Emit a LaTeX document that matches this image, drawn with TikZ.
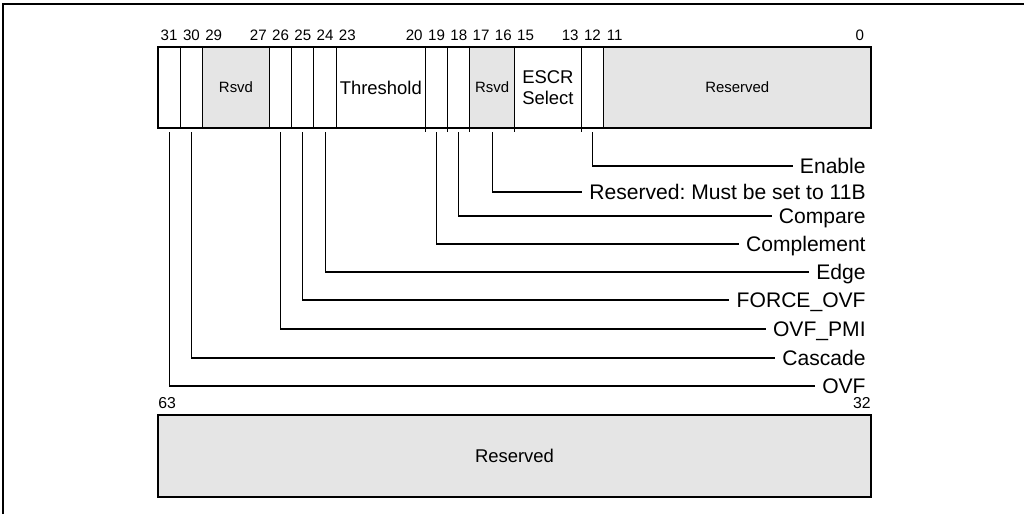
\documentclass[tikz,border=0pt]{standalone}
\usepackage{fontspec}
\setmainfont{Liberation Sans}
\usetikzlibrary{positioning}
\newcommand{\bitw}{4.456mm}
\frenchspacing

\begin{document}
\begin{tikzpicture}[
  x=0.2mm, y=-0.2mm,
  fld/.style={draw, line width=0.6pt, minimum height=16.2mm, inner sep=0pt,
              outer sep=0pt, align=center, font=\fontsize{8.5}{10}\selectfont},
  rsv/.style={fill=black!10},
  big/.style={font=\fontsize{10.5}{12}\selectfont},
  bitno/.style={anchor=base, inner sep=0pt, font=\fontsize{8.6}{9}\selectfont},
  lbl/.style={anchor=east, inner xsep=4pt, inner ysep=0pt, text height=8.6pt,
              text depth=0pt, font=\fontsize{12}{14}\selectfont},
  leader/.style={line width=0.6pt},
]
  \useasboundingbox (0,0) rectangle (1024,514);
  % ── Page frame (only top and left edges show) ──
  \draw[line width=1.2pt] (3,514) -- (3,4) -- (1024,4);

  % ── Low dword: fields from bit 31 down to bit 0 ──
  \node[fld, minimum width=\bitw, anchor=north west] (f31) at (158,47) {};
  \node[fld, minimum width=\bitw, right=0pt of f31] (f30) {};
  \node[fld, rsv, minimum width=3*\bitw, right=0pt of f30] (f2927) {Rsvd};
  \node[fld, minimum width=\bitw, right=0pt of f2927] (f26) {};
  \node[fld, minimum width=\bitw, right=0pt of f26] (f25) {};
  \node[fld, minimum width=\bitw, right=0pt of f25] (f24) {};
  \node[fld, big, minimum width=4*\bitw, right=0pt of f24] (f2320) {Threshold};
  \node[fld, minimum width=\bitw, right=0pt of f2320] (f19) {};
  \node[fld, minimum width=\bitw, right=0pt of f19] (f18) {};
  \node[fld, rsv, minimum width=2*\bitw, right=0pt of f18] (f1716) {Rsvd};
  \node[fld, big, minimum width=3*\bitw, right=0pt of f1716] (f1513) {ESCR\\Select};
  \node[fld, minimum width=\bitw, right=0pt of f1513] (f12) {};
  \node[fld, rsv, minimum width=12*\bitw, right=0pt of f12] (f110) {Reserved};
  \draw[line width=1.5pt] (f31.north west) rectangle (f110.south east);
  % small ticks under some dividers
  \foreach \f in {f19,f18,f1716,f1513,f12}
    \draw[line width=0.6pt] (\f.south west) -- ++(0,4);

  % ── Bit numbers above the low dword ──
  \foreach \b in {31,30,29,27,26,25,24,23,20,19,18,17,16,15,13,12,11,0}
    \node[bitno] (n\b) at ({158+(31.5-\b)*22.28},40) {\b};

  % ── Field names (right aligned) ──
  \node[lbl] (lenable)  at (873,166) {Enable};
  \node[lbl] (lrsvd)    at (873,192) {Reserved: Must be set to 11B};
  \node[lbl] (lcompare) at (873,216) {Compare};
  \node[lbl] (lcompl)   at (873,244) {Complement};
  \node[lbl] (ledge)    at (873,272) {Edge};
  \node[lbl] (lforce)   at (873,300) {FORCE\_OVF};
  \node[lbl] (lpmi)     at (873,329) {OVF\_PMI};
  \node[lbl] (lcascade) at (873,358) {Cascade};
  \node[lbl] (lovf)     at (873,386) {OVF};

  % ── Leaders (bit → name) ──
  \draw[leader] ([yshift=-0.8mm]f12.south)   |- (lenable.west);
  \draw[leader] ([yshift=-0.8mm]f1716.south) |- (lrsvd.west);
  \draw[leader] ([yshift=-0.8mm]f18.south)   |- (lcompare.west);
  \draw[leader] ([yshift=-0.8mm]f19.south)   |- (lcompl.west);
  \draw[leader] ([yshift=-0.8mm]f24.south)   |- (ledge.west);
  \draw[leader] ([yshift=-0.8mm]f25.south)   |- (lforce.west);
  \draw[leader] ([yshift=-0.8mm]f26.south)   |- (lpmi.west);
  \draw[leader] ([yshift=-0.8mm]f30.south)   |- (lcascade.west);
  \draw[leader] ([yshift=-0.8mm]f31.south)   |- (lovf.west);

  % ── High dword: all reserved ──
  \node[bitno, anchor=base west, font=\fontsize{9}{10}\selectfont] (n63) at (158,408) {63};
  \node[bitno, anchor=base east, font=\fontsize{9}{10}\selectfont] (n32) at (871,408) {32};
  \node[fld, rsv, big, line width=1.5pt, minimum width=32*\bitw, minimum height=16.4mm,
        anchor=north west] (fhi) at (158,415) {Reserved};
\end{tikzpicture}
\end{document}
